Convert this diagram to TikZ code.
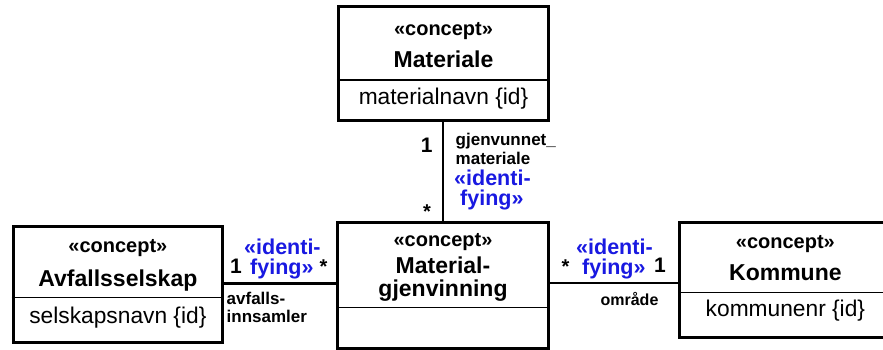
\documentclass[tikz,border=0pt]{standalone}
\usepackage{fontspec}
\setmainfont{Liberation Sans}
\definecolor{stereoblue}{RGB}{25,25,225}
\newcommand\tightlines{\lineskiplimit=-100pt\relax}
\begin{document}
\begin{tikzpicture}[x=1pt,y=-1pt,
  cls/.style={draw, line width=3pt, inner sep=0pt},
  divline/.style={line width=1.2pt},
  conn/.style={line width=2.8pt},
  txt/.style={inner sep=0pt, anchor=base},
  stereo/.style={txt, font=\fontsize{20}{22}\selectfont\bfseries},
  cname/.style={txt, font=\fontsize{23}{26}\selectfont\bfseries},
  attr/.style={txt, font=\fontsize{22.75}{26}\selectfont},
  mult/.style={txt, font=\fontsize{21}{24}\selectfont\bfseries},
  star/.style={txt, font=\fontsize{20}{22}\selectfont\bfseries},
  role/.style={inner sep=0pt, anchor=base west, align=left, font=\fontsize{17}{#1}\selectfont\bfseries\tightlines},
  ident/.style={inner sep=0pt, anchor=base west, align=left, text=stereoblue, font=\fontsize{21.5}{#1}\selectfont\bfseries\tightlines}
]
\useasboundingbox (0,0) rectangle (883,350);
% boxes
\node[cls, minimum width=210.4pt, minimum height=113.5pt] (mat) at (443.5,63.75) {};
\node[cls, minimum width=210.6pt, minimum height=125.6pt] (mg) at (443,285.5) {};
\node[cls, minimum width=209.8pt, minimum height=115.7pt] (avf) at (117.9,284.2) {};
\node[cls, minimum width=211.3pt, minimum height=115pt] (kom) at (785.4,279.5) {};
% dividers
\draw[divline] (mat.west |- 0,80) -- (mat.east |- 0,80);
\draw[divline] (mg.west |- 0,307.7) -- (mg.east |- 0,307.7);
\draw[divline] (avf.west |- 0,297.5) -- (avf.east |- 0,297.5);
\draw[divline] (kom.west |- 0,292.7) -- (kom.east |- 0,292.7);
% texts in boxes
\node[stereo] (matst) at (443.5,36) {«concept»};
\node[cname] (matn) at (443.5,67.5) {Materiale};
\node[attr] (mata) at (443.5,104.5) {materialnavn \{id\}};
\node[stereo] (mgst) at (443,246.5) {«concept»};
\node[cname, align=center, font=\fontsize{23}{23.5}\selectfont\bfseries\tightlines] (mgn) at (443,296.5) {Material-\\gjenvinning};
\node[stereo] (avfst) at (117.9,252) {«concept»};
\node[cname] (avfn) at (117.9,286.5) {Avfallsselskap};
\node[attr] (avfa) at (117.9,323) {selskapsnavn \{id\}};
\node[stereo] (komst) at (785.4,248.3) {«concept»};
\node[cname] (komn) at (785.4,280) {Kommune};
\node[attr] (koma) at (785.4,316.7) {kommunenr \{id\}};
% connectors
\draw[conn] (mat.south) -- (mat.south -| mg.north) -- (mg.north);
\draw[conn] ([yshift=1pt]avf.east) -- ([yshift=1pt]avf.east -| mg.west);
\draw[conn] ([yshift=-3.5pt]kom.west) -- ([yshift=-3.5pt]kom.west -| mg.east);
% vertical association labels
\node[mult] (m1) at (426.7,153) {1};
\node[star] (m2) at (427,218.5) {*};
\node[role=18.3] (r1) at (455.5,164.3) {gjenvunnet\_\\materiale};
\node[ident=20.5] (i1) at (454,205.5) {«identi-\\\ fying»};
% left association labels
\node[mult] (l1) at (236,273) {1};
\node[star] (l2) at (323.5,273) {*};
\node[ident=20] (i2) at (244,274) {«identi-\\\ fying»};
\node[role=18.5] (r2) at (226.5,322.5) {avfalls-\\innsamler};
% right association labels
\node[star] (k1) at (565.5,273) {*};
\node[mult] (k2) at (660,272.7) {1};
\node[ident=20] (i3) at (576,274) {«identi-\\\ fying»};
\node[txt, font=\fontsize{16}{19}\selectfont\bfseries] (r3) at (629.5,305) {område};
\end{tikzpicture}
\end{document}
